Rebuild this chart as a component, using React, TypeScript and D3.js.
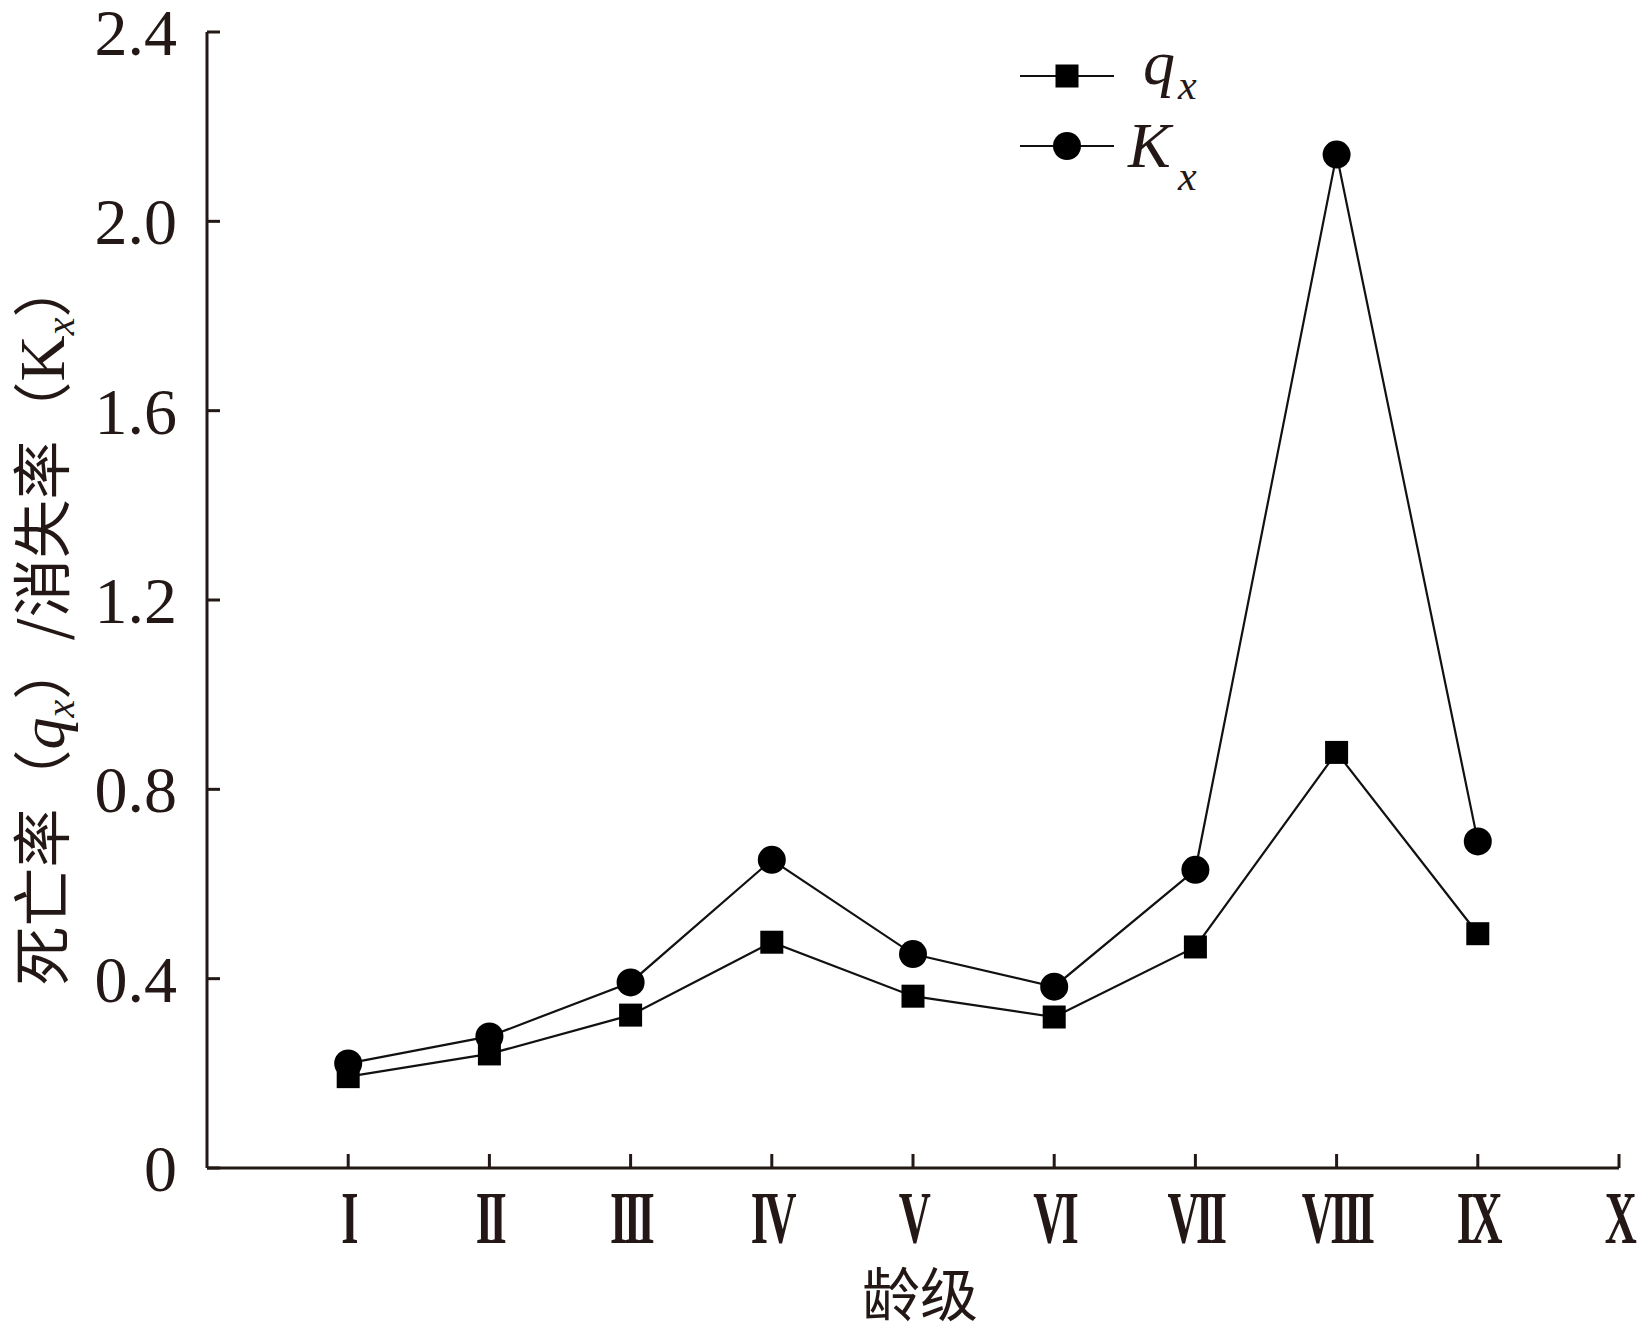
import React, { useEffect } from 'react';
import * as d3 from 'd3';

// age classes (x positions 1..10)
const ageClasses = ['I', 'II', 'III', 'IV', 'V', 'VI', 'VII', 'VIII', 'IX', 'X'];
// mortality rate q_x and killing power K_x for classes I..IX
const qx = [0.193, 0.241, 0.323, 0.477, 0.363, 0.319, 0.467, 0.878, 0.495];
const kx = [0.221, 0.278, 0.392, 0.651, 0.452, 0.383, 0.63, 2.141, 0.69];
const yTicks = [0, 0.4, 0.8, 1.2, 1.6, 2.0, 2.4];

const W = 1640;
const H = 1331;
const ink = '#231815';
const serif = '"Liberation Serif", "Times New Roman", serif';
const cjk = '"Noto Sans CJK SC", sans-serif';

export default function App() {
  useEffect(() => {
    document.body.style.margin = '0';
  }, []);

  const x = d3.scaleLinear().domain([0, 10]).range([207, 1619]);
  const y = d3.scaleLinear().domain([0, 2.4]).range([1168, 32]);

  const line = d3.line<number>()
    .x((_, i) => x(i + 1))
    .y(d => y(d));

  const sq = 23;
  const r = 14;

  return (
    <svg width={W} height={H} style={{ display: 'block', background: '#fff' }}>
      {/* axes */}
      <g stroke={ink} strokeWidth={3} fill="none">
        <line x1={x(0)} x2={x(0)} y1={y(2.4)} y2={y(0)} />
        <line x1={x(0)} x2={x(10)} y1={y(0)} y2={y(0)} />
        {yTicks.map(t => (
          <line key={t} x1={x(0)} x2={x(0) + 13} y1={y(t)} y2={y(t)} />
        ))}
        {ageClasses.map((_, i) => (
          <line key={i} x1={x(i + 1)} x2={x(i + 1)} y1={y(0)} y2={y(0) - 14} />
        ))}
      </g>

      {/* y tick labels */}
      <g fill={ink} fontFamily={serif} fontSize={66} textAnchor="end">
        {yTicks.map(t => (
          <text key={t} x={x(0) - 30} y={y(t)} dy="0.35em">
            {t === 0 ? '0' : d3.format('.1f')(t)}
          </text>
        ))}
      </g>

      {/* x tick labels */}
      <g fill={ink} fontFamily={serif} fontSize={74} fontWeight="bold" textAnchor="middle">
        {ageClasses.map((c, i) => (
          <text
            key={c}
            transform={`translate(${x(i + 1)},1243) scale(0.6,1)`}
            letterSpacing={-6}
          >
            {c}
          </text>
        ))}
      </g>

      {/* axis titles */}
      <text x={920} y={1316} textAnchor="middle" fontFamily={cjk} fontSize={58} fill={ink}>
        龄级
      </text>
      <text
        transform="translate(64,622) rotate(-90)"
        textAnchor="middle"
        fontFamily={cjk}
        fontSize={59}
        fill={ink}
      >
        死亡率（
        <tspan fontFamily={serif} fontStyle="italic" fontSize={64}>q</tspan>
        <tspan fontFamily={serif} fontStyle="italic" fontSize={40} dy={10}>x</tspan>
        <tspan dy={-10}>）/消失率（</tspan>
        <tspan fontFamily={serif} fontSize={64}>K</tspan>
        <tspan fontFamily={serif} fontStyle="italic" fontSize={40} dy={10}>x</tspan>
        <tspan dy={-10}>）</tspan>
      </text>

      {/* series lines */}
      <g fill="none" stroke="#111" strokeWidth={2.2}>
        <path d={line(kx) ?? ''} />
        <path d={line(qx) ?? ''} />
      </g>

      {/* markers */}
      <g fill="#000">
        {kx.map((v, i) => (
          <circle key={'k' + i} cx={x(i + 1)} cy={y(v)} r={r} />
        ))}
        {qx.map((v, i) => (
          <rect key={'q' + i} x={x(i + 1) - sq / 2} y={y(v) - sq / 2} width={sq} height={sq} />
        ))}
      </g>

      {/* legend */}
      <g>
        <line x1={1020} x2={1114} y1={76} y2={76} stroke="#111" strokeWidth={2.2} />
        <rect x={1067 - sq / 2} y={76 - sq / 2} width={sq} height={sq} fill="#000" />
        <line x1={1020} x2={1114} y1={146} y2={146} stroke="#111" strokeWidth={2.2} />
        <circle cx={1067} cy={146} r={r} fill="#000" />
        <g fill={ink} fontFamily={serif} fontStyle="italic">
          <text x={1143} y={84} fontSize={64}>q</text>
          <text x={1178} y={99} fontSize={42}>x</text>
          <text x={1128} y={167} fontSize={64}>K</text>
          <text x={1178} y={190} fontSize={42}>x</text>
        </g>
      </g>
    </svg>
  );
}
